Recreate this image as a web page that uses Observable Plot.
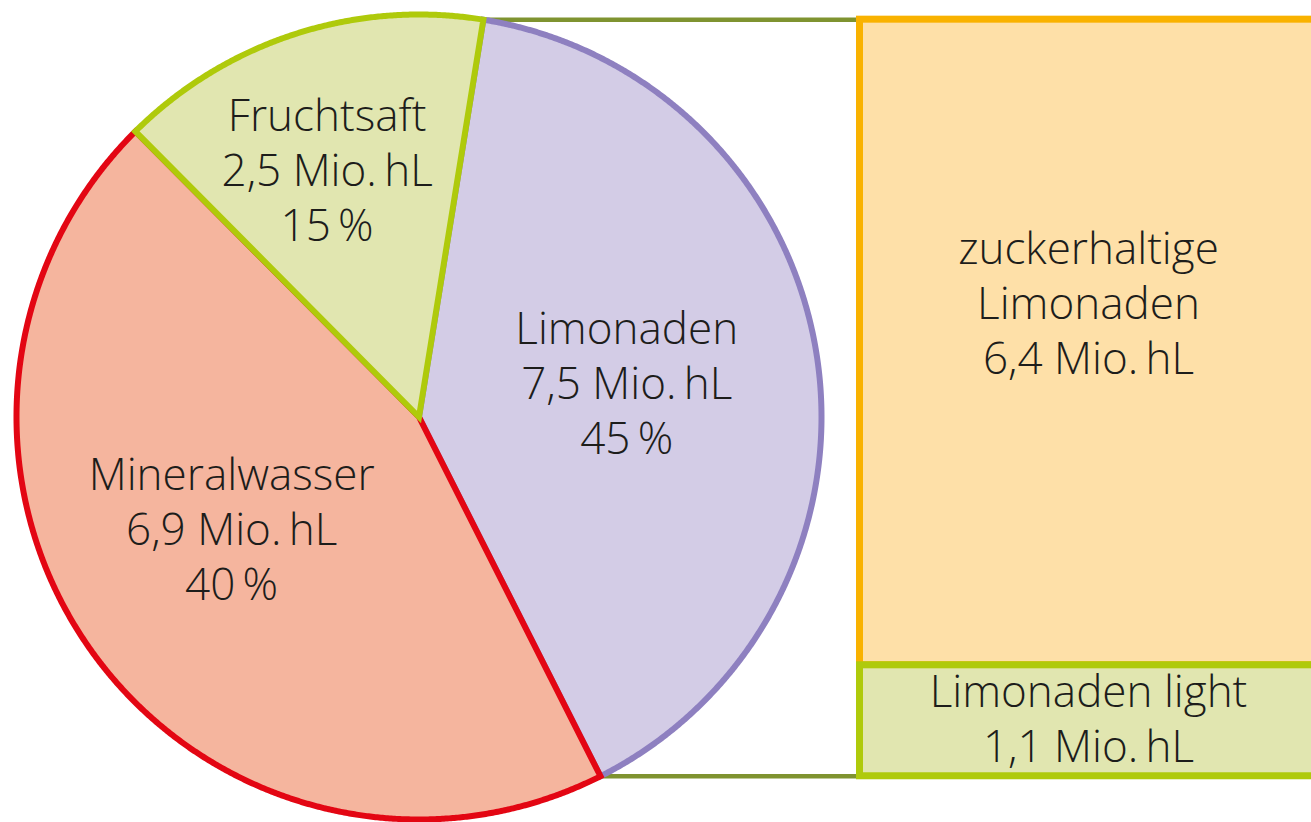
<!DOCTYPE html>
<html>
<head>
<meta charset="utf-8">
<script src="https://cdn.jsdelivr.net/npm/d3@7"></script>
<script src="https://cdn.jsdelivr.net/npm/@observablehq/plot@0.6"></script>
<style>
  html, body { margin: 0; padding: 0; background: #ffffff; overflow: hidden; }
  #chart svg { display: block; }
</style>
</head>
<body>
<div id="chart"></div>
<script>
// ---------- data ----------
const categories   = ["Limonaden", "Mineralwasser", "Fruchtsaft"];
const volumes      = [7.5, 6.9, 2.5];          // Mio. hL, as labelled
const percents     = [45, 40, 15];             // %, as labelled
const drawnShares  = [40, 45, 15];             // slice sizes as actually drawn in the picture
const subCategories = ["zuckerhaltige Limonaden", "Limonaden light"];
const subVolumes    = [6.4, 1.1];              // Mio. hL (split of "Limonaden")

// ---------- layout & style ----------
const W = 1311, H = 822;
const cx = 418.5, cy = 416.5, R = 402.5;
const startDeg = 9.2;
const rad = Math.PI / 180;
const FONT = "'Open Sans', 'Noto Sans', sans-serif";
const FS = 44, LH = 1.25, CAP = 0.714;
const baseFix = -7.5;
const textColor = "#1d1d1b";

const sliceStyle = {
  "Limonaden":     {fill: "#d3cce6", stroke: "#8e80c0", rf: 0.523, nudge: -0.5},
  "Mineralwasser": {fill: "#f5b59e", stroke: "#e30613", rf: 0.542, nudge: 5.0},
  "Fruchtsaft":    {fill: "#e1e6b0", stroke: "#afca0b", rf: 0.655, nudge: -2.6}
};
const subStyle = {
  "zuckerhaltige Limonaden": {fill: "#fee0a8", stroke: "#f9b200", shift: -39, wrap: true},
  "Limonaden light":         {fill: "#e1e6b0", stroke: "#afca0b", shift: -2, wrap: false}
};
const connectorColor = "#7f9330";
const barX1 = 859.5, barX2 = 1316.5;

const fmt = (v) => String(v).replace(".", ",");
const polar = (a, r) => [cx + r * Math.sin(a), cy - r * Math.cos(a)];

// ---------- pie geometry from data ----------
const slices = categories.map((name, i) => ({name, volume: volumes[i], percent: percents[i], share: drawnShares[i]}));
const a0 = startDeg * rad;
const arcs = d3.pie().sort(null).value(d => d.share).startAngle(a0).endAngle(a0 + 2 * Math.PI)(slices);

function slicePath(arc) {
  const pts = [];
  const mid = (arc.startAngle + arc.endAngle) / 2;
  const step = 0.25 * rad;
  const n1 = Math.ceil((arc.endAngle - mid) / step);
  for (let k = 0; k <= n1; k++) pts.push(polar(mid + (arc.endAngle - mid) * k / n1, R));
  pts.push([cx, cy]);
  const n2 = Math.ceil((mid - arc.startAngle) / step);
  for (let k = 0; k <= n2; k++) pts.push(polar(arc.startAngle + (mid - arc.startAngle) * k / n2, R));
  return pts.map(([x, y]) => ({x, y}));
}

// ---------- bar geometry from data ----------
const limo = arcs[0];
const [topX, topY] = polar(limo.startAngle, R);
const [botX, botY] = polar(limo.endAngle, R);
const barScale = d3.scaleLinear([0, volumes[0]], [botY, topY]);
// stack: "light" at the bottom, "zuckerhaltige" above
const order = [1, 0];
let acc = 0;
const barRows = [];
for (const i of order) {
  barRows.push({name: subCategories[i], volume: subVolumes[i], y1: barScale(acc), y2: barScale(acc + subVolumes[i])});
  acc += subVolumes[i];
}
const barDraw = [barRows[1], barRows[0]]; // orange first, green on top

// ---------- labels ----------
const pieLabels = arcs.map(a => {
  const st = sliceStyle[a.data.name];
  const mid = (a.startAngle + a.endAngle) / 2 + st.nudge * rad;
  const [x, yc] = polar(mid, st.rf * R);
  const lines = 3;
  const y = yc - ((lines - 1) * LH * FS + CAP * FS) / 2 + baseFix;
  return {x, y, text: `${a.data.name}\n${fmt(a.data.volume)} Mio.\u2009hL\n${a.data.percent}\u2009%`};
});
const barLabels = barRows.map(r => {
  const st = subStyle[r.name];
  const name = st.wrap ? r.name.replace(" ", "\n") : r.name;
  const lines = name.split("\n").length + 1;
  const yc = (r.y1 + r.y2) / 2 + st.shift;
  const y = yc - ((lines - 1) * LH * FS + CAP * FS) / 2 + baseFix;
  return {x: (barX1 + barX2) / 2, y, text: `${name}\n${fmt(r.volume)} Mio.\u2009hL`};
});

const connectors = [
  {x1: topX, y1: topY, x2: barX1, y2: topY},
  {x1: botX, y1: botY, x2: barX1, y2: botY}
];

// ---------- marks ----------
const marks = [];
marks.push(Plot.link(connectors, {x1: "x1", y1: "y1", x2: "x2", y2: "y2", stroke: connectorColor, strokeWidth: 4.5}));
for (const a of arcs) {
  const st = sliceStyle[a.data.name];
  marks.push(Plot.line(slicePath(a), {x: "x", y: "y", fill: st.fill, stroke: st.stroke, strokeWidth: 6,
    strokeLinejoin: "miter", strokeMiterlimit: 20, strokeLinecap: "butt"}));
}
for (const r of barDraw) {
  const st = subStyle[r.name];
  marks.push(Plot.rect([r], {x1: () => barX1, x2: () => barX2, y1: "y1", y2: "y2", fill: st.fill, stroke: st.stroke, strokeWidth: 7}));
}
const textOpts = {x: "x", y: "y", text: "text", fontSize: FS, lineHeight: LH, lineAnchor: "top", textAnchor: "middle",
  fill: textColor, fontFamily: FONT, fontWeight: 350};
marks.push(Plot.text(pieLabels, textOpts));
marks.push(Plot.text(barLabels, textOpts));

const chart = Plot.plot({
  width: W, height: H, margin: 0,
  x: {domain: [0, W], range: [0, W], axis: null},
  y: {domain: [0, H], range: [0, H], axis: null},
  style: {background: "#ffffff", overflow: "hidden"},
  marks
});
document.getElementById("chart").appendChild(chart);
</script>
</body>
</html>
